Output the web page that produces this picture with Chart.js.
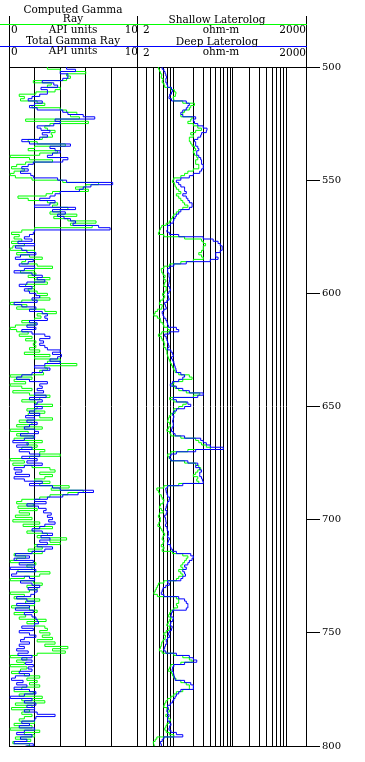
<!DOCTYPE html>
<html><head><meta charset="utf-8">
<script src="https://cdn.jsdelivr.net/npm/chart.js@4/dist/chart.umd.min.js"></script>
<style>
html,body{margin:0;padding:0;background:#fff;}
#wrap{position:relative;width:365px;height:762px;overflow:hidden;font-family:"DejaVu Serif",serif;font-size:10.5px;color:#000;}
canvas{position:absolute;left:0;top:0;}
.t{position:absolute;white-space:nowrap;line-height:1;}
.c{transform:translate(-50%,-50%);}
.l{transform:translateY(-50%);}
.r{transform:translate(-100%,-50%);}
.hl{position:absolute;height:1px;}
.vl{position:absolute;width:1px;background:#000;}
</style></head>
<body><div id="wrap">
<canvas id="c1" width="365" height="762"></canvas>
<canvas id="c2" width="365" height="762"></canvas>
<div class="vl" style="left:9px;top:16px;height:51px"></div>
<div class="vl" style="left:137px;top:16px;height:51px"></div>
<div class="vl" style="left:306px;top:16px;height:51px"></div>
<div class="hl" style="left:0;top:24px;width:307px;background:#00ff00"></div>
<div class="hl" style="left:0;top:46px;width:307px;background:#0000ff"></div>
<div class="t c" style="left:73px;top:9px">Computed Gamma</div>
<div class="t c" style="left:73px;top:17.5px">Ray</div>
<div class="t l" style="left:11px;top:28.5px">0</div>
<div class="t c" style="left:73px;top:28.5px">API units</div>
<div class="t r" style="left:138px;top:28.5px">10</div>
<div class="t c" style="left:73px;top:40px">Total Gamma Ray</div>
<div class="t l" style="left:11px;top:51px">0</div>
<div class="t c" style="left:73px;top:50px">API units</div>
<div class="t r" style="left:138px;top:51px">10</div>
<div class="t c" style="left:217px;top:19px">Shallow Laterolog</div>
<div class="t l" style="left:143px;top:28.5px">2</div>
<div class="t c" style="left:221px;top:29px">ohm-m</div>
<div class="t r" style="left:306px;top:28.5px">2000</div>
<div class="t c" style="left:217px;top:41px">Deep Laterolog</div>
<div class="t l" style="left:143px;top:51.5px">2</div>
<div class="t c" style="left:221px;top:51px">ohm-m</div>
<div class="t r" style="left:306px;top:51.5px">2000</div>
</div>
<script>
// sample depths (1 unit apart)
const depth = [
500,501,502,503,504,505,506,507,508,509,
510,511,512,513,514,515,516,517,518,519,
520,521,522,523,524,525,526,527,528,529,
530,531,532,533,534,535,536,537,538,539,
540,541,542,543,544,545,546,547,548,549,
550,551,552,553,554,555,556,557,558,559,
560,561,562,563,564,565,566,567,568,569,
570,571,572,573,574,575,576,577,578,579,
580,581,582,583,584,585,586,587,588,589,
590,591,592,593,594,595,596,597,598,599,
600,601,602,603,604,605,606,607,608,609,
610,611,612,613,614,615,616,617,618,619,
620,621,622,623,624,625,626,627,628,629,
630,631,632,633,634,635,636,637,638,639,
640,641,642,643,644,645,646,647,648,649,
650,651,652,653,654,655,656,657,658,659,
660,661,662,663,664,665,666,667,668,669,
670,671,672,673,674,675,676,677,678,679,
680,681,682,683,684,685,686,687,688,689,
690,691,692,693,694,695,696,697,698,699,
700,701,702,703,704,705,706,707,708,709,
710,711,712,713,714,715,716,717,718,719,
720,721,722,723,724,725,726,727,728,729,
730,731,732,733,734,735,736,737,738,739,
740,741,742,743,744,745,746,747,748,749,
750,751,752,753,754,755,756,757,758,759,
760,761,762,763,764,765,766,767,768,769,
770,771,772,773,774,775,776,777,778,779,
780,781,782,783,784,785,786,787,788,789,
790,791,792,793,794,795,796,797,798,799,
800];
// Computed Gamma Ray (API units)
const computedGammaRay = [
3.0,4.0,6.0,4.5,4.8,4.5,1.9,3.3,3.0,4.0,
3.6,2.1,0.8,1.2,0.9,2.2,2.8,1.8,4.0,4.5,
5.3,4.8,5.5,1.3,6.2,3.2,2.8,3.0,3.6,3.3,
3.4,2.6,1.5,2.2,4.4,2.0,1.5,3.8,2.4,0.1,
1.6,3.4,1.3,0.6,0.2,1.2,0.4,0.1,0.5,1.8,
4.2,7.0,6.0,5.2,6.2,3.4,2.9,0.7,1.5,3.0,
3.8,3.4,4.6,4.0,3.2,5.3,3.5,4.6,6.8,4.8,
6.5,2.0,1.0,0.2,0.8,0.4,1.0,0.2,1.2,0.3,
0.1,2.0,0.6,1.6,2.6,1.3,1.0,2.2,3.4,2.0,
0.9,2.1,1.5,3.2,2.0,3.0,1.3,2.0,1.5,2.2,
3.0,2.4,3.2,1.0,0.1,1.4,0.6,2.8,3.7,2.2,
2.5,2.0,1.0,2.1,0.5,0.1,0.6,1.5,0.8,1.8,
1.3,2.1,1.9,2.1,1.6,2.4,1.2,3.2,2.0,4.0,
3.0,5.3,2.8,3.0,2.4,2.7,0.1,1.8,0.4,1.3,
0.1,1.0,1.8,0.3,1.6,3.2,2.4,1.0,2.1,3.4,
2.2,1.4,2.8,1.5,2.4,3.4,0.8,1.8,0.6,2.6,
0.1,1.5,0.6,1.9,0.4,2.6,1.4,2.2,1.0,2.8,
2.4,4.0,1.6,0.1,1.2,0.3,1.8,3.2,3.6,2.4,
3.4,2.8,2.0,3.2,2.4,4.7,3.3,5.8,4.6,3.2,
2.4,1.0,0.6,1.9,0.7,2.2,0.8,1.6,0.5,1.8,
0.3,2.4,1.1,3.4,2.0,1.4,3.0,2.2,4.5,3.2,
4.0,2.0,2.6,1.5,2.6,0.4,1.3,0.6,0.1,2.1,
1.4,1.8,0.7,3.2,2.4,1.2,0.1,1.9,2.6,1.4,
2.2,1.6,0.1,1.2,0.4,2.4,1.3,2.0,0.2,1.6,
2.2,0.4,1.3,0.8,2.9,1.4,2.0,2.8,3.0,2.4,
3.2,2.6,3.4,2.2,3.6,2.8,4.6,3.4,4.4,2.2,
0.1,1.4,0.6,1.2,0.1,1.4,0.9,0.2,1.2,2.4,
1.4,2.2,1.6,2.4,1.0,0.4,1.9,0.8,2.6,1.0,
2.8,0.5,1.8,0.2,1.6,1.0,1.8,1.2,0.8,2.0,
0.4,1.8,0.1,2.4,1.2,2.0,0.5,1.7,0.3,1.6,
1.4];
// Total Gamma Ray (API units)
const totalGammaRay = [
4.5,5.2,4.0,4.6,4.6,4.2,2.6,3.5,3.8,2.5,
3.0,3.0,2.4,1.8,1.5,2.6,2.0,1.6,2.2,4.2,
4.6,5.8,6.7,3.6,4.0,3.5,2.2,2.5,3.2,2.6,
3.0,2.4,1.0,1.6,4.8,3.2,3.6,4.0,3.4,3.0,
4.6,4.2,1.9,1.5,1.0,1.5,0.9,1.7,1.9,3.8,
4.5,8.1,6.4,5.8,5.5,4.0,3.6,3.2,2.4,3.6,
3.2,2.0,5.2,3.4,4.4,3.8,4.3,4.8,5.2,5.0,
7.0,7.9,2.0,1.9,1.6,1.2,1.8,0.7,2.0,0.5,
1.0,1.4,2.1,0.9,0.5,1.9,1.5,0.8,2.0,1.2,
0.4,1.8,2.6,2.2,2.8,1.4,0.8,1.8,1.2,1.6,
2.1,2.4,1.8,2.2,0.4,1.0,2.1,1.6,2.6,3.0,
2.8,3.0,1.6,2.2,1.4,2.1,1.0,1.8,2.8,3.2,
2.4,2.7,2.4,2.8,3.0,4.0,3.4,4.1,3.8,3.2,
4.0,2.8,2.0,3.2,2.6,1.8,1.0,0.6,1.6,3.0,
2.4,2.6,2.2,2.7,2.0,2.9,1.6,2.6,2.2,2.0,
2.6,2.0,1.6,2.4,1.3,2.0,1.4,2.2,1.6,1.2,
2.0,2.3,0.9,2.0,1.2,0.3,1.5,0.6,1.8,0.8,
1.6,2.4,1.0,2.2,1.4,2.6,1.2,0.4,1.0,0.5,
1.6,0.4,1.2,2.6,1.6,3.4,4.0,6.6,5.4,4.2,
3.0,2.0,2.9,1.4,2.3,2.9,2.7,3.3,3.0,3.4,
3.1,3.6,2.8,2.4,1.8,2.6,3.4,2.5,3.2,2.4,
3.0,2.2,3.4,2.8,1.8,0.5,1.6,0.4,1.9,0.8,
2.0,0.1,2.1,0.6,0.2,1.6,2.0,0.9,1.8,2.4,
1.5,2.2,2.0,1.7,0.6,1.4,2.0,0.6,1.6,0.5,
1.9,1.2,1.8,2.1,2.2,2.3,2.0,1.0,1.9,0.8,
1.6,2.1,1.2,0.9,1.6,0.8,1.2,0.6,1.5,0.7,
1.8,1.0,1.8,1.3,1.9,1.5,1.8,0.8,1.6,0.5,
0.2,1.1,0.6,1.4,0.4,1.6,2.1,1.2,0.1,1.8,
1.2,2.1,1.4,2.0,1.2,2.2,3.6,2.1,2.0,1.0,
1.6,0.8,2.0,1.2,0.6,1.8,0.9,1.4,0.4,1.9,
1.3];
// Shallow Laterolog (ohm-m)
const shallowLaterolog = [
4.8,5.0,5.2,5.5,5.4,5.8,5.6,6.0,6.2,8.0,
9.2,9.8,9.6,8.8,9.0,13,21,18,17,14,
13,12,19,18,16,20,24,28,22,18,
20,17,17,18,19,21,22,20,21,23,
24,22,22,25,25,20,16,14,12,9.0,
8.5,9.2,9.5,10,11,12,10,11,12,13,
14,16,13,11,10,9.0,8.5,8.0,7.5,6.6,
5.5,5.2,5.0,4.8,6.0,14,28,30,33,30,
30,28,25,28,30,20,12,7.6,6.0,5.4,
5.5,5.8,6.3,6.0,6.5,6.2,6.0,6.6,6.6,6.2,
5.7,6.2,5.8,5.2,5.0,5.6,5.5,4.6,4.2,4.0,
4.6,5.2,5.3,5.8,6.0,7.0,7.5,5.5,4.8,5.4,
5.6,6.0,6.2,6.0,6.5,6.8,6.8,7.0,7.2,7.5,
7.8,8.2,8.6,9.0,9.5,11,17,19,13,9.0,
8.4,9.5,11,15,26,20,7.6,9.0,15,13,
11,9.0,9.5,8.0,7.5,7.2,7.0,7.6,7.8,7.2,
6.8,7.6,8.0,12,22,25,28,34,40,16,
8.0,7.0,7.4,8.0,14,22,25,27,24,22,
20,24,23,25,11,6.0,4.5,4.8,5.0,5.4,
5.6,6.0,5.8,5.2,5.0,5.4,5.8,5.0,4.8,5.2,
5.2,4.9,4.7,5.2,5.5,5.8,6.2,5.8,5.6,6.0,
5.8,5.4,6.0,5.6,8.5,13,16,15,14,13,
12,13,11,12,13,11,10,6.0,4.8,4.6,
4.4,4.2,4.0,4.6,10,11,11,10,10.5,9.0,
8.0,7.6,7.2,8.0,7.5,7.2,6.8,7.6,7.4,6.6,
6.0,6.4,6.3,5.8,5.5,5.4,5.2,5.0,5.6,9.0,
13,17,19,12,8.0,7.6,7.2,8.2,8.5,9.0,
9.8,12,15,17,17,13,10,9.0,8.0,7.0,
6.5,6.2,6.0,6.8,7.5,7.0,6.5,7.2,7.8,7.4,
6.8,6.5,6.2,6.6,7.5,9.0,4.5,4.2,3.9,4.0,
4.2];
// Deep Laterolog (ohm-m)
const deepLaterolog = [
5.6,6.0,6.3,6.5,6.7,6.5,6.5,6.8,7.0,8.2,
8.5,8.2,7.6,7.4,8.2,15,17,16,15,13,
12,13,22,20,21,24,30,35,34,28,
27,24,21,22,22,24,25,23,23,25,
27,28,28,30,30,28,26,20,17,12,
10,11,12,14,14,15,13,15,16,17,
19,19,17,12,11,10,9.5,9.0,8.8,7.8,
7.0,7.0,6.8,7.5,11,30,45,55,60,65,
65,60,50,50,55,40,15,9.0,7.6,7.0,
7.0,7.4,7.4,7.6,7.5,7.4,7.2,7.6,7.8,7.4,
7.0,7.2,7.4,6.8,6.2,6.4,6.6,6.0,5.6,5.8,
6.0,6.5,6.8,7.0,7.2,10,11,7.5,6.2,6.6,
6.8,7.0,7.2,7.4,7.0,8.0,8.5,8.8,8.2,8.6,
9.0,9.2,9.5,9.8,10,12,14,13,11,8.5,
7.8,10,13,17,30,24,8.8,10,16,18,
14,10,9.0,8.6,9.0,8.8,8.6,8.8,8.8,8.4,
8.2,8.8,9.5,14,27,30,34,40,68,22,
10,8.0,7.6,8.0,16,24,22,26,28,26,
26,28,29,30,13,7.0,6.5,6.6,6.8,7.0,
7.6,7.4,7.0,6.8,6.6,6.4,6.8,6.6,6.2,6.4,
6.5,6.6,6.4,6.8,6.9,7.2,7.2,7.0,7.5,7.2,
7.0,7.8,8.0,8.5,10,18,20,19,17,16,
14,15,13,14,14.5,13,12,7.0,7.5,6.5,
5.8,5.6,5.4,6.0,11,14,15,16,16,15,
8.5,8.2,8.0,8.8,8.6,8.0,7.8,8.4,8.2,7.6,
7.2,7.6,7.0,6.6,6.8,6.4,6.2,6.0,6.5,10,
17,20,23,14,9.0,8.6,8.4,8.8,9.0,9.2,
9.5,14,18,20,20,12,11,10,9.5,9.0,
8.5,7.8,7.0,7.2,6.8,7.0,7.4,7.0,7.0,7.6,
8.0,7.6,7.4,8.0,10,13,6.0,5.6,5.2,5.4,
5.5];
const gammaGrid = [0,2,4,6,8,10];
const resistivityGrid = [2,3,4,5,6,7,8,9,20,30,40,50,60,70,80,90,100,200,300,400,500,600,700,800,900,2000];
const depthTicks = [500,550,600,650,700,750,800];

const GREEN = '#00ff00', BLUE = '#0000ff';
const pts = vals => vals.map((v,i)=>({x:v,y:depth[i]}));
function ds(label, vals, color){
  return {label, data: pts(vals), borderColor: color, backgroundColor: color, borderWidth: 1,
    pointRadius: 0, stepped: 'after', fill: false, showLine: true};
}
const base = {
  responsive:false, animation:false, devicePixelRatio:1, events:[],
  plugins:{legend:{display:false}, tooltip:{enabled:false}}
};
const topBorder = () => ({type:'linear', position:'top', display:true,
  ticks:{display:false}, grid:{display:false, drawTicks:false},
  border:{display:true, color:'#000', width:1}});

new Chart(document.getElementById('c1'), {
  type:'scatter',
  data:{datasets:[ds('Total Gamma Ray', totalGammaRay, BLUE), ds('Computed Gamma Ray', computedGammaRay, GREEN)]},
  options:Object.assign({}, base, {
    layout:{padding:{left:9, right:228, top:67, bottom:16}},
    scales:{
      x:{type:'linear', min:0, max:10, position:'bottom',
        afterBuildTicks:s=>{s.ticks = gammaGrid.map(v=>({value:v}));},
        ticks:{display:false}, grid:{color:'#000', lineWidth:1, drawTicks:false},
        border:{display:true, color:'#000'}},
      xt: topBorder(),
      y:{type:'linear', min:500, max:800, reverse:true, display:false}
    }
  })
});

new Chart(document.getElementById('c2'), {
  type:'scatter',
  data:{datasets:[ds('Deep Laterolog', deepLaterolog, BLUE), ds('Shallow Laterolog', shallowLaterolog, GREEN)]},
  options:Object.assign({}, base, {
    layout:{padding:{left:137, right:9, top:67, bottom:16}},
    scales:{
      x:{type:'logarithmic', min:2, max:2000, position:'bottom',
        afterBuildTicks:s=>{s.ticks = resistivityGrid.map(v=>({value:v}));},
        ticks:{display:false}, grid:{color:'#000', lineWidth:1, drawTicks:false},
        border:{display:true, color:'#000'}},
      xt: topBorder(),
      y:{type:'linear', position:'right', min:500, max:800, reverse:true,
        afterBuildTicks:s=>{s.ticks = depthTicks.map(v=>({value:v}));},
        afterFit:s=>{s.width = 50;},
        ticks:{color:'#000', font:{family:'DejaVu Serif', size:10}, padding:2, autoSkip:false},
        grid:{drawOnChartArea:false, drawTicks:true, tickLength:14, color:'#000'},
        border:{display:true, color:'#000'}}
    }
  })
});
</script>
</body></html>
